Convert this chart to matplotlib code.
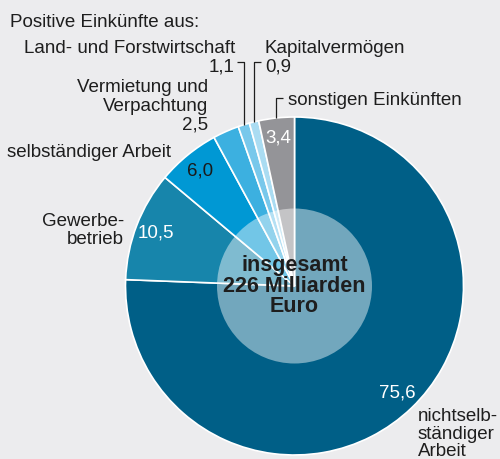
import matplotlib
matplotlib.use("Agg")
import matplotlib.pyplot as plt
import numpy as np

plt.rcParams['font.family'] = ['Liberation Sans', 'DejaVu Sans']

# Anteile an den positiven Einkünften (Prozent), im Uhrzeigersinn ab 12 Uhr
kategorien = ['nichtselbständiger Arbeit', 'Gewerbebetrieb', 'selbständiger Arbeit',
              'Vermietung und Verpachtung', 'Land- und Forstwirtschaft',
              'Kapitalvermögen', 'sonstigen Einkünften']
werte = [75.6, 10.5, 6.0, 2.5, 1.1, 0.9, 3.4]
farben = ['#005f87', '#1785ab', '#0098d4', '#3cb0e0', '#78c8eb', '#aadcf2', '#949498']
wert_farbe = ['white', 'white', '#1a1a1a', None, None, None, 'white']

hintergrund = '#ececee'
textfarbe = '#1e1e1e'

# pixel -> daten (kreismitte bei 294.5/286 px, radius 169 px)
R = 169.0
CX, CY = 294.5, 286.0
W, H = 500, 459


def P(x, y):
    return ((x - CX) / R, (CY - y) / R)


fig = plt.figure(figsize=(W / 100, H / 100), dpi=100)
fig.patch.set_facecolor(hintergrund)
ax = fig.add_axes([0, 0, 1, 1])
ax.set_facecolor(hintergrund)

wedges, _ = ax.pie(werte, colors=farben, startangle=90, counterclock=False,
                   radius=1.0, wedgeprops=dict(edgecolor='white', linewidth=1.2))
ax.set_xlim(-CX / R, (W - CX) / R)
ax.set_ylim((CY - H) / R, CY / R)
ax.set_aspect('equal')
ax.axis('off')

# werte im kreis
for w, v, c in zip(wedges, werte, wert_farbe):
    if c is None:
        continue
    mid = np.deg2rad((w.theta1 + w.theta2) / 2)
    r = 0.88
    ax.text(r * np.cos(mid), r * np.sin(mid), f'{v:.1f}'.replace('.', ','),
            color=c, fontsize=13.5, ha='center', va='center')

# innerer kreis
ax.add_patch(plt.Circle((0, 0), 77.5 / R, color='white', alpha=0.45, lw=0, zorder=3))
ax.text(0, 0, 'insgesamt\n226 Milliarden\nEuro', ha='center', va='center',
        fontsize=15.5, fontweight='bold', color=textfarbe, linespacing=0.95, zorder=4)

fs = 13.5
ax.text(*P(10, 27), 'Positive Einkünfte aus:', fontsize=fs, color=textfarbe,
        ha='left', va='baseline')
ax.text(*P(235, 53), 'Land- und Forstwirtschaft', fontsize=fs, color=textfarbe,
        ha='right', va='baseline')
ax.text(*P(235, 71), '1,1', fontsize=fs, color=textfarbe, ha='right', va='baseline')
ax.text(*P(265, 53), 'Kapitalvermögen', fontsize=fs, color=textfarbe,
        ha='left', va='baseline')
ax.text(*P(265, 71), '0,9', fontsize=fs, color=textfarbe, ha='left', va='baseline')
ax.text(*P(208, 92), 'Vermietung und', fontsize=fs, color=textfarbe,
        ha='right', va='baseline')
ax.text(*P(208, 111), 'Verpachtung', fontsize=fs, color=textfarbe,
        ha='right', va='baseline')
ax.text(*P(208, 129), '2,5', fontsize=fs, color=textfarbe, ha='right', va='baseline')
ax.text(*P(288, 105), 'sonstigen Einkünften', fontsize=fs, color=textfarbe,
        ha='left', va='baseline')
ax.text(*P(7, 157), 'selbständiger Arbeit', fontsize=fs, color=textfarbe,
        ha='left', va='baseline')
ax.text(*P(124, 226), 'Gewerbe-', fontsize=fs, color=textfarbe, ha='right', va='baseline')
ax.text(*P(124, 244), 'betrieb', fontsize=fs, color=textfarbe, ha='right', va='baseline')
ax.text(*P(418, 421), 'nichtselb-', fontsize=fs, color=textfarbe, ha='left', va='baseline')
ax.text(*P(418, 439), 'ständiger', fontsize=fs, color=textfarbe, ha='left', va='baseline')
ax.text(*P(418, 456), 'Arbeit', fontsize=fs, color=textfarbe, ha='left', va='baseline')

# hinweislinien: senkrecht vom kreisrand nach oben, dann kurzer haken
leader = {4: (62, -1), 5: (62, 1), 6: (98, 1)}
for i, (ypx, richtung) in leader.items():
    w = wedges[i]
    mid = np.deg2rad((w.theta1 + w.theta2) / 2)
    x0, y0 = np.cos(mid), np.sin(mid)
    ytop = P(0, ypx)[1]
    ax.plot([x0, x0, x0 + richtung * 7 / R], [y0, ytop, ytop],
            color=textfarbe, lw=0.9, solid_capstyle='butt')

fig.savefig('out.png', dpi=100, facecolor=hintergrund)
